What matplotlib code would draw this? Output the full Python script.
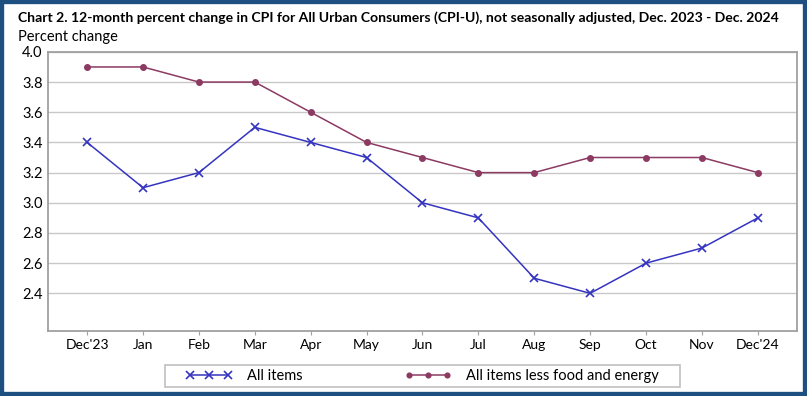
import matplotlib
matplotlib.use("Agg")
import matplotlib.pyplot as plt
from matplotlib.patches import Rectangle

months = ["Dec'23", "Jan", "Feb", "Mar", "Apr", "May", "Jun",
          "Jul", "Aug", "Sep", "Oct", "Nov", "Dec'24"]
all_items = [3.4, 3.1, 3.2, 3.5, 3.4, 3.3, 3.0, 2.9, 2.5, 2.4, 2.6, 2.7, 2.9]
core = [3.9, 3.9, 3.8, 3.8, 3.6, 3.4, 3.3, 3.2, 3.2, 3.3, 3.3, 3.3, 3.2]
yticks = [2.4, 2.6, 2.8, 3.0, 3.2, 3.4, 3.6, 3.8, 4.0]

plt.rcParams['font.family'] = ['Lato', 'DejaVu Sans']

fig = plt.figure(figsize=(8.07, 3.96), dpi=100)
ax = fig.add_axes([0.0595, 0.164, 0.928, 0.705])

x = list(range(len(months)))
ax.plot(x, all_items, color='#3434c0', lw=1.1, marker='x', ms=6, mew=1.2,
        label='All items')
ax.plot(x, core, color='#8c3a62', lw=1.1, marker='o', ms=4,
        label='All items less food and energy')

ax.set_xlim(-0.7, 12.7)
ax.set_ylim(2.15, 4.0)
ax.set_xticks(x)
ax.set_xticklabels(months, fontsize=10)
ax.set_yticks(yticks)
ax.set_yticklabels([f"{v:.1f}" for v in yticks], fontsize=10.5)
ax.tick_params(axis='y', length=0, pad=4)
ax.tick_params(axis='x', length=3, color='#a0a0a0', pad=3)
ax.grid(axis='y', color='#c8c8c8', lw=1)
ax.set_axisbelow(True)
for s in ax.spines.values():
    s.set_color('#a0a0a0')
    s.set_linewidth(1.3)

# legend without its own frame; the frame is drawn separately (wider side padding)
leg = fig.legend(loc='center', bbox_to_anchor=(0.523, 0.0505), ncol=2,
                 fontsize=10.5, frameon=False, numpoints=3, markerscale=0.85,
                 handlelength=3.2, columnspacing=7, handletextpad=1.0)
fig.patches.append(Rectangle((165 / 807, 1 - 387 / 396), 515 / 807, 22 / 396,
                             transform=fig.transFigure, fill=False,
                             edgecolor='#c0c0c0', linewidth=1.2))

fig.text(0.022, 0.955, "Chart 2. 12-month percent change in CPI for All Urban Consumers (CPI-U), "
         "not seasonally adjusted, Dec. 2023 - Dec. 2024",
         fontsize=10.1, fontweight='bold', ha='left', va='center')
fig.text(0.022, 0.907, "Percent change", fontsize=10.5, ha='left', va='center')

# dark blue frame round the whole picture
fig.patches.append(Rectangle((0.0, 0.0), 1.0, 1.0, transform=fig.transFigure,
                             fill=False, edgecolor='#1d4f80', linewidth=6))

fig.savefig('out.png', dpi=100)
